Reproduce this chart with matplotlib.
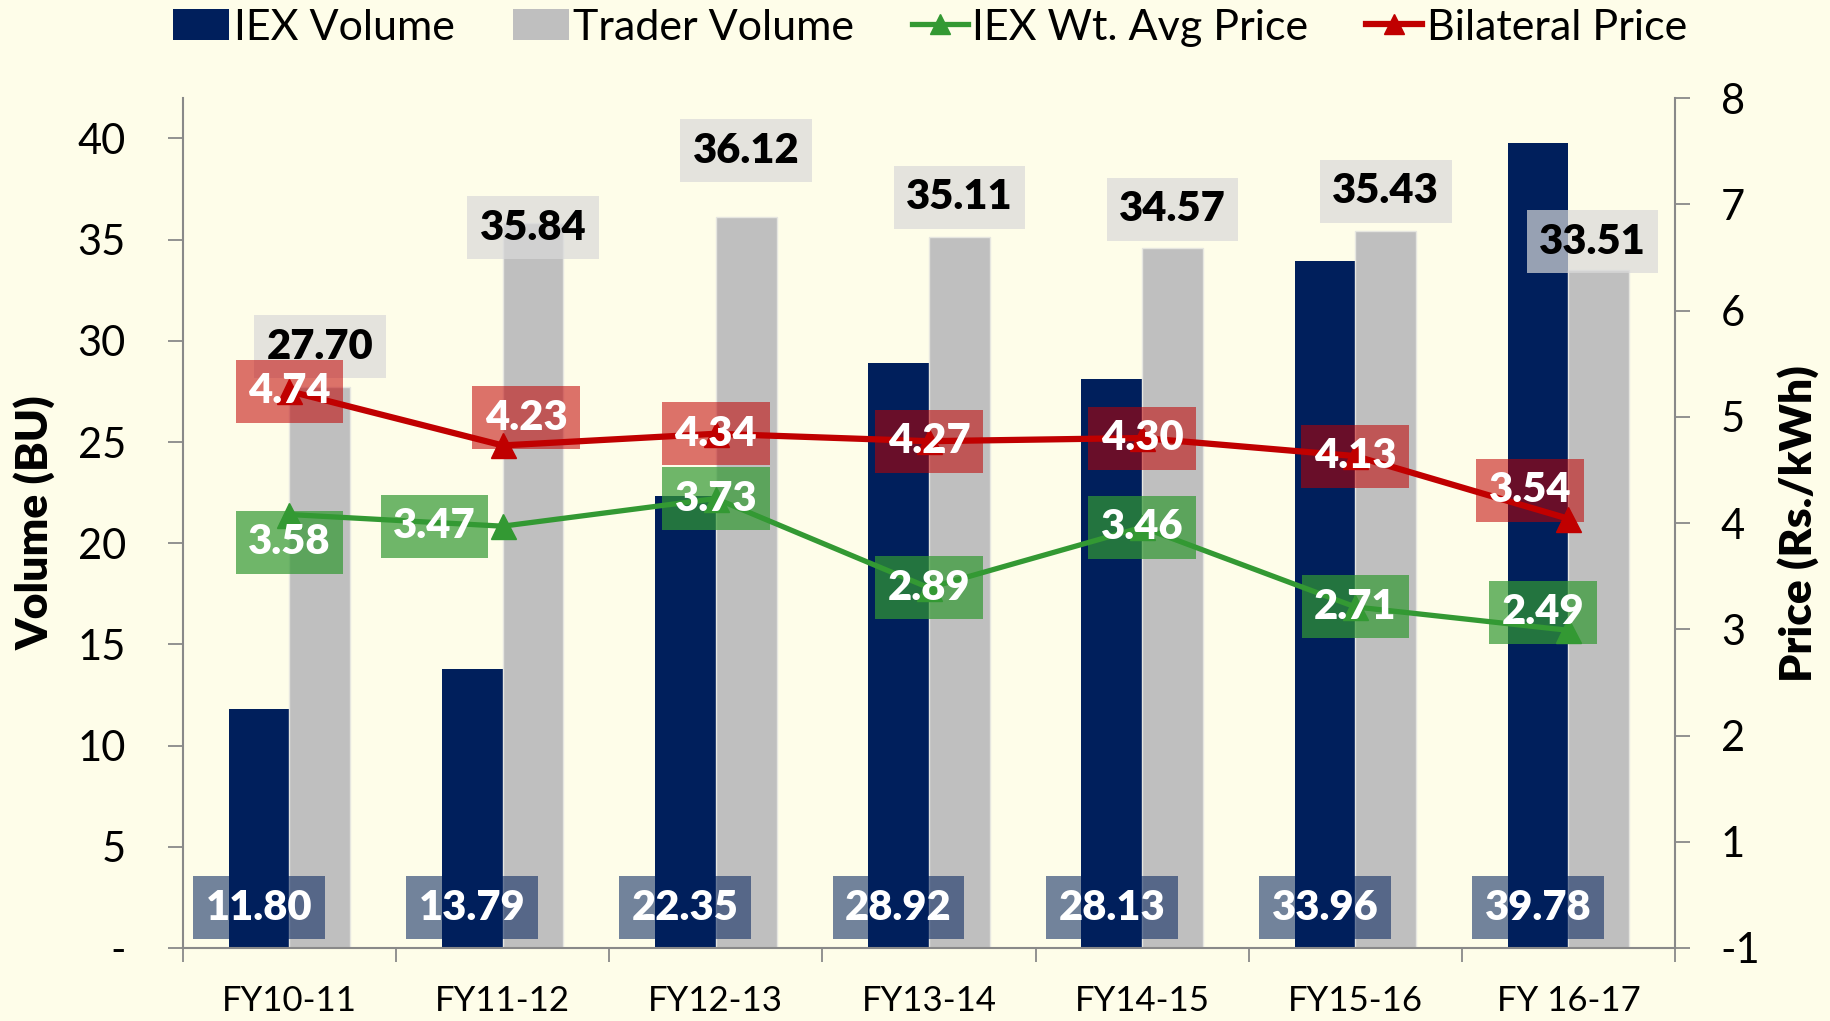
import numpy as np
import matplotlib
matplotlib.use('Agg')
from matplotlib import pyplot as plt
from matplotlib.patches import Patch
from matplotlib.lines import Line2D

# ----- data -----
years = ['FY10-11', 'FY11-12', 'FY12-13', 'FY13-14', 'FY14-15', 'FY15-16', 'FY 16-17']
iex_volume = [11.80, 13.79, 22.35, 28.92, 28.13, 33.96, 39.78]
trader_volume = [27.70, 35.84, 36.12, 35.11, 34.57, 35.43, 33.51]
iex_price = [3.58, 3.47, 3.73, 2.89, 3.46, 2.71, 2.49]
bilateral_price = [4.74, 4.23, 4.34, 4.27, 4.30, 4.13, 3.54]

# ----- label placement (hand-moved labels in the original) -----
red_nudge = [(0, 0), (0.11, 0.26), (0, 0), (0, 0), (0, 0), (0, 0), (-0.18, 0.27)]
green_nudge = [(0, -0.26), (-0.32, 0), (0, 0), (0, 0), (0, 0), (0, 0), (-0.12, 0.17)]
trader_label_y = [29.7, 35.6, 39.4, 37.1, 36.5, 37.4, 34.9]
trader_label_dx = [0, 0, 0, 0, 0, 0, -0.03]

NAVY = '#001F5C'
GREY = '#BFBFBF'
GREEN = '#339933'
RED = '#C00000'
BG = '#FEFDE9'
AXC = '#898989'

plt.rcParams['font.family'] = ['Lato', 'DejaVu Sans']
LBL = dict(fontsize=30, fontweight='heavy', ha='center', va='center')
PAD = 'square,pad=0.3'

fig = plt.figure(figsize=(18.31, 10.21), dpi=100, facecolor=BG)
ax1 = fig.add_axes([0.0999, 0.0715, 0.8149, 0.8325])
ax1.set_facecolor(BG)
ax2 = ax1.twinx()

x = np.arange(len(years))
w = 0.285

ax1.bar(x - w / 2, iex_volume, w, color=NAVY, zorder=2)
ax1.bar(x + w / 2, trader_volume, w, color=GREY, edgecolor='#E6E6E0', linewidth=1, zorder=2)

ax2.plot(x, iex_price, color=GREEN, lw=3.8, marker='^', ms=18, zorder=3)
ax2.plot(x, bilateral_price, color=RED, lw=4.5, marker='^', ms=18, zorder=3)

# volume labels
for i in range(len(years)):
    ax1.text(x[i] - w / 2, 2.0, f"{iex_volume[i]:.2f}", color='white', zorder=5,
             bbox=dict(boxstyle=PAD, fc=NAVY, ec='none', alpha=0.55), **LBL)
    ax1.text(x[i] + w / 2 + trader_label_dx[i], trader_label_y[i], f"{trader_volume[i]:.2f}",
             color='black', zorder=5,
             bbox=dict(boxstyle=PAD, fc='#D9D9D9', ec='none', alpha=0.7), **LBL)

# price labels
for i in range(len(years)):
    dx, dy = red_nudge[i]
    ax2.text(x[i] + dx, bilateral_price[i] + dy, f"{bilateral_price[i]:.2f}", color='white', zorder=6,
             bbox=dict(boxstyle=PAD, fc=RED, ec='none', alpha=0.55), **LBL)
    dx, dy = green_nudge[i]
    ax2.text(x[i] + dx, iex_price[i] + dy, f"{iex_price[i]:.2f}", color='white', zorder=6,
             bbox=dict(boxstyle=PAD, fc=GREEN, ec='none', alpha=0.7), **LBL)

# axes
ax1.set_xlim(-0.5, len(years) - 0.5)
ax1.set_ylim(0, 42)
ax2.set_ylim(-0.5, 7.5)

ax1.set_xticks(x)
ax1.set_xticklabels(years)
ax1.set_xticks(np.arange(-0.5, len(years), 1), minor=True)
ax1.tick_params(axis='x', which='major', length=0, pad=27, labelsize=25)
ax1.tick_params(axis='x', which='minor', length=10, width=1.3, color=AXC)

vol_ticks = np.arange(0, 41, 5)
ax1.set_yticks(vol_ticks)
ax1.set_yticklabels(['-' if t == 0 else str(t) for t in vol_ticks])
ax1.tick_params(axis='y', length=11, width=1.3, color=AXC, pad=30, labelsize=30)

# price axis ticks sit on half units, labelled the way the spreadsheet rounds them
price_ticks = np.arange(-0.5, 8, 1.0)
ax2.set_yticks(price_ticks)
ax2.set_yticklabels([str(int(np.sign(t) * np.floor(abs(t) + 0.5))) for t in price_ticks])
ax2.tick_params(axis='y', length=11, width=1.3, color=AXC, pad=22, labelsize=30)

for a in (ax1, ax2):
    a.spines['top'].set_visible(False)
    for s in a.spines.values():
        s.set_color(AXC)
        s.set_linewidth(1.5)
ax2.spines['left'].set_visible(False)
ax2.spines['bottom'].set_visible(False)
ax1.spines['right'].set_visible(False)

fig.text(0.019, 0.488, 'Volume (BU)', rotation=90, ha='center', va='center',
         fontsize=32, fontweight='heavy')
fig.text(0.982, 0.487, 'Price (Rs./kWh)', rotation=90, ha='center', va='center',
         fontsize=32, fontweight='heavy')

# legend
handles = [Patch(facecolor=NAVY), Patch(facecolor=GREY),
           Line2D([], [], color=GREEN, lw=3.8, marker='^', ms=15),
           Line2D([], [], color=RED, lw=4.5, marker='^', ms=15)]
labels = ['IEX Volume', 'Trader Volume', 'IEX Wt. Avg Price', 'Bilateral Price']
fig.legend(handles, labels, ncol=4, loc='center', bbox_to_anchor=(0.508, 0.973),
           frameon=False, fontsize=31, handlelength=1.3, handleheight=0.7,
           handletextpad=0.1, columnspacing=1.35, borderaxespad=0)

fig.savefig('out.png', dpi=100, facecolor=BG)
